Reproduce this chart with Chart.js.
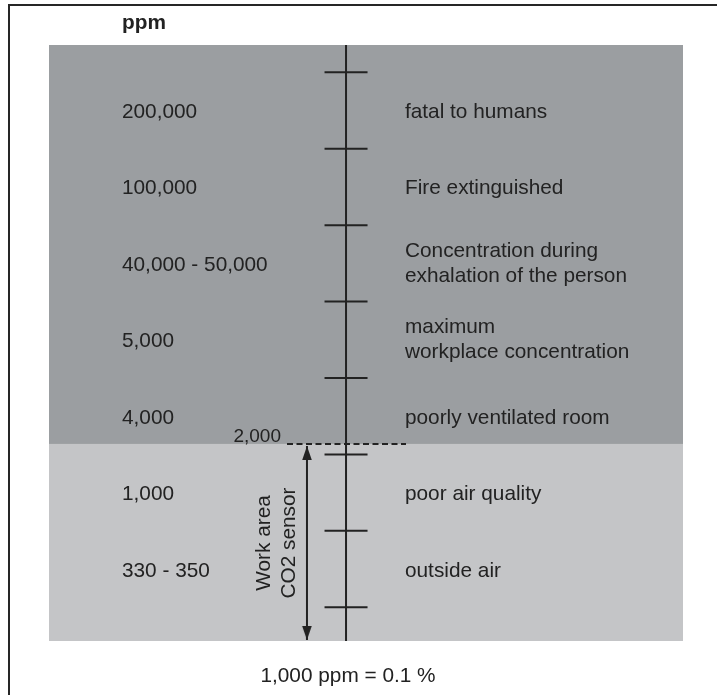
<!DOCTYPE html>
<html>
<head>
<meta charset="utf-8">
<script src="https://cdn.jsdelivr.net/npm/chart.js@4"></script>
<style>
  html, body { margin: 0; padding: 0; background: #fff; }
  #wrap { position: relative; width: 717px; height: 695px; }
  canvas { display: block; }
</style>
</head>
<body>
<div id="wrap"><canvas id="c" width="717" height="695" style="width:717px;height:695px"></canvas></div>
<script>
// ---- data ----
const unitLabel = 'ppm';
const levelLabels = ['200,000', '100,000', '40,000 - 50,000', '5,000', '4,000', '1,000', '330 - 350'];
const levelDescriptions = [
  ['fatal to humans'],
  ['Fire extinguished'],
  ['Concentration during', 'exhalation of the person'],
  ['maximum', 'workplace concentration'],
  ['poorly ventilated room'],
  ['poor air quality'],
  ['outside air']
];
const tickPositions = [0, 1, 2, 3, 4, 5, 6, 7];
const scaleRange = [-0.357, 7.441];
const sensorThreshold = 4.863;
const sensorThresholdLabel = '2,000';
const sensorRange = [4.889, 7.428];
const sensorLabel = ['Work area', 'CO2 sensor'];
const footnote = '1,000 ppm = 0.1 %';

// ---- layout (x in 0..100 of the panel width) ----
const AXIS_X = 46.85;
const ARROW_X = 40.69;
const LEFT_X = 11.51;
const RIGHT_X = 56.15;
const DASH_X = [37.54, 56.31];
const FONT = '"Liberation Sans", Arial, Helvetica, sans-serif';
const INK = '#222';
const DARK = '#9b9ea1';
const LIGHT = '#c4c5c7';

// arrowhead image: tip at the image centre, body below
function makeArrowHead() {
  const c = document.createElement('canvas');
  c.width = 12; c.height = 28;
  const g = c.getContext('2d');
  g.fillStyle = INK;
  g.beginPath();
  g.moveTo(6, 14);
  g.lineTo(10.8, 28);
  g.lineTo(1.2, 28);
  g.closePath();
  g.fill();
  return c;
}
const arrowHead = makeArrowHead();

const decor = {
  id: 'decor',
  beforeDraw(chart) {
    const { ctx, chartArea: a, scales: { y } } = chart;
    ctx.save();
    ctx.fillStyle = '#fff';
    ctx.fillRect(0, 0, chart.width, chart.height);
    // frame
    ctx.strokeStyle = '#262626';
    ctx.lineWidth = 2;
    ctx.beginPath();
    ctx.moveTo(9, chart.height + 5);
    ctx.lineTo(9, 5);
    ctx.lineTo(chart.width + 5, 5);
    ctx.stroke();
    // bands
    const yt = y.getPixelForValue(sensorThreshold);
    const y0 = y.getPixelForValue(scaleRange[0]);
    const y1 = y.getPixelForValue(scaleRange[1]);
    ctx.fillStyle = DARK;
    ctx.fillRect(a.left, y0, a.right - a.left, yt - y0);
    ctx.fillStyle = LIGHT;
    ctx.fillRect(a.left, yt, a.right - a.left, y1 - yt);
    ctx.restore();
  },
  afterDatasetsDraw(chart) {
    const { ctx, chartArea: a, scales: { x, y } } = chart;
    const fs = 20.8, lh = 25, capHalf = 0.716 * fs / 2;
    ctx.save();
    ctx.fillStyle = INK;
    ctx.textBaseline = 'alphabetic';
    // unit label
    ctx.font = 'bold ' + fs + 'px ' + FONT;
    ctx.textAlign = 'left';
    ctx.fillText(unitLabel, x.getPixelForValue(LEFT_X), 29);
    ctx.font = fs + 'px ' + FONT;
    const lx = x.getPixelForValue(LEFT_X), rx = x.getPixelForValue(RIGHT_X);
    levelLabels.forEach((lab, i) => {
      const cy = y.getPixelForValue(i + 0.5);
      ctx.fillText(lab, lx, cy + capHalf);
      const lines = levelDescriptions[i];
      const start = cy + capHalf - (lines.length - 1) * lh / 2 - 1.5 * (lines.length - 1);
      lines.forEach((ln, j) => ctx.fillText(ln, rx, start + j * lh));
    });
    // threshold label
    ctx.font = '19px ' + FONT;
    ctx.textAlign = 'right';
    ctx.fillText(sensorThresholdLabel, x.getPixelForValue(DASH_X[0]) - 6, y.getPixelForValue(sensorThreshold) - 2);
    // rotated sensor label
    ctx.font = fs + 'px ' + FONT;
    ctx.textAlign = 'center';
    const ax = x.getPixelForValue(ARROW_X);
    const my = (y.getPixelForValue(sensorRange[0]) + y.getPixelForValue(sensorRange[1])) / 2;
    ctx.translate(ax - 37, my);
    ctx.rotate(-Math.PI / 2);
    sensorLabel.forEach((ln, j) => ctx.fillText(ln, 0, j * lh));
    ctx.setTransform(1, 0, 0, 1, 0, 0);
    // footnote
    ctx.textAlign = 'center';
    ctx.fillText(footnote, x.getPixelForValue(AXIS_X) + 2, a.bottom + 41);
    ctx.restore();
  }
};

new Chart(document.getElementById('c'), {
  type: 'scatter',
  data: {
    datasets: [
      {
        label: 'axis',
        showLine: true,
        data: [{ x: AXIS_X, y: scaleRange[0] }, { x: AXIS_X, y: scaleRange[1] }],
        borderColor: INK, borderWidth: 2, pointRadius: 0
      },
      {
        label: 'ticks',
        data: tickPositions.map(t => ({ x: AXIS_X, y: t })),
        pointStyle: 'line', pointRadius: 21.5,
        borderColor: INK, pointBorderColor: INK, pointBorderWidth: 2, borderWidth: 2
      },
      {
        label: 'threshold',
        showLine: true,
        data: [{ x: DASH_X[0], y: sensorThreshold }, { x: DASH_X[1], y: sensorThreshold }],
        borderColor: INK, borderWidth: 2, borderDash: [6, 3.5], pointRadius: 0
      },
      {
        label: 'sensor range',
        showLine: true,
        data: [{ x: ARROW_X, y: sensorRange[0] }, { x: ARROW_X, y: sensorRange[1] }],
        borderColor: INK, borderWidth: 2,
        pointStyle: arrowHead, pointRadius: 5, pointRotation: [0, 180]
      }
    ]
  },
  options: {
    responsive: false,
    animation: false,
    events: [],
    layout: { padding: { left: 49, right: 34, top: 45, bottom: 54 } },
    plugins: { legend: { display: false }, tooltip: { enabled: false }, title: { display: false } },
    scales: {
      x: { type: 'linear', min: 0, max: 100, display: false },
      y: { type: 'linear', min: scaleRange[0], max: scaleRange[1], reverse: true, display: false }
    }
  },
  plugins: [decor]
});
</script>
</body>
</html>
